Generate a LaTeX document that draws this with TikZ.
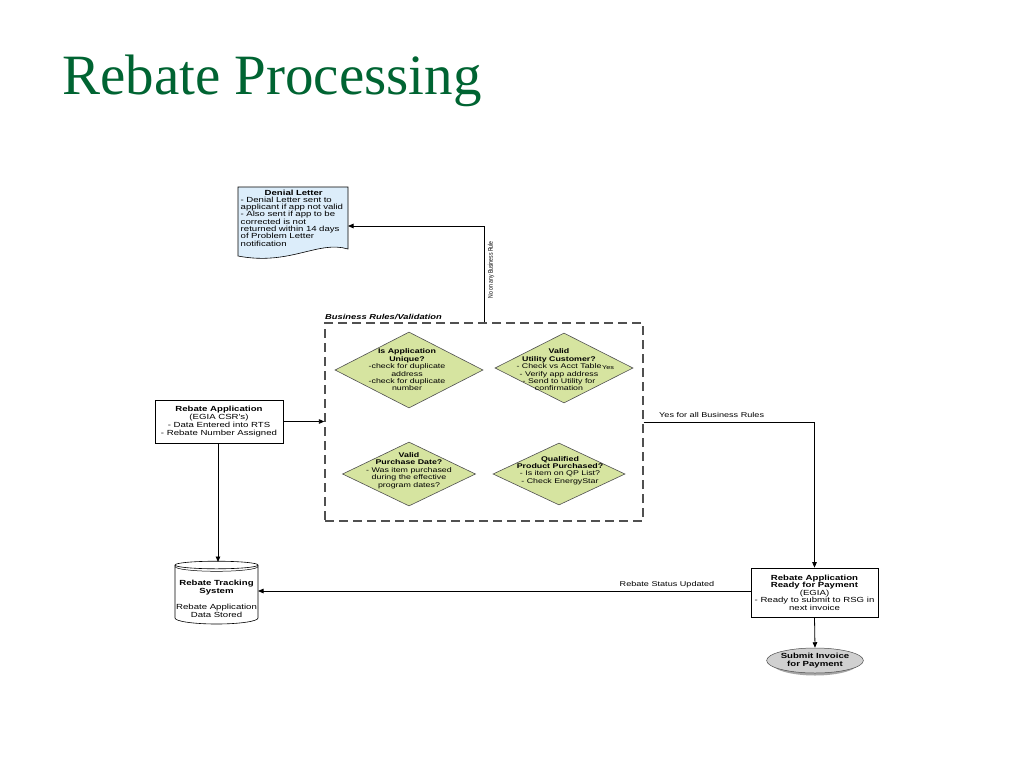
\documentclass[tikz,border=0pt]{standalone}
\usepackage{fontspec}
\setmainfont{Liberation Serif}
\newfontfamily\diagfont[FakeStretch=1.3]{Liberation Sans}
\newfontfamily\plainsans{Liberation Sans}
\usetikzlibrary{shapes.geometric,arrows.meta}
\definecolor{titlegreen}{RGB}{0,100,50}
\definecolor{docblue}{RGB}{220,237,250}
\definecolor{dgreen}{RGB}{214,228,160}
\definecolor{dline}{RGB}{80,80,80}
\definecolor{ovalgray}{RGB}{208,208,208}
\tikzset{
  txt/.style={font=\diagfont\fontsize{7.4}{7.8}\selectfont, align=center, inner sep=0pt},
  dtxt/.style={font=\diagfont\fontsize{6.8}{7.4}\selectfont, align=center, inner sep=0pt},
  box/.style={draw=black, line width=0.7pt, fill=white, minimum width=#1, inner sep=0pt},
  dia/.style={diamond, draw=dline, line width=0.6pt, fill=dgreen, inner sep=0pt},
  arr/.style={line width=0.8pt, -{Triangle[length=5.5pt,width=4.5pt]}},
  lbl/.style={font=\diagfont\fontsize{7}{7}\selectfont, inner sep=0pt},
}
\begin{document}
\begin{tikzpicture}[x=1pt,y=-1pt]
\useasboundingbox[fill=white] (0,0) rectangle (1024,768);

% title
\node[anchor=base west, inner sep=0pt, font=\fontsize{57}{57}\selectfont, text=titlegreen] (title) at (62,94) {Rebate Processing};

% Denial letter (document shape)
\draw[line width=0.6pt, fill=docblue] (238,187) -- (348,187) -- (348,249)
   .. controls (318,240) and (290,266) .. (238,256) -- cycle;
\node[txt, font=\diagfont\fontsize{7.4}{7.3}\selectfont, align=left, text width=106pt, anchor=north west] (denial) at (240.5,189.5)
  {\makebox[\linewidth]{\bfseries Denial Letter}\\
   - Denial Letter sent to\\applicant if app not valid\\- Also sent if app to be\\corrected is not\\returned within 14 days\\of Problem Letter\\notification};
\coordinate (denialin) at (348,226);

% dashed rules box
\node[draw=dline, line width=1.3pt, dash pattern=on 9pt off 5pt, minimum width=318pt, minimum height=198pt, inner sep=0pt] (rules) at (484,422) {};
\node[anchor=south west, inner sep=0pt, font=\diagfont\fontsize{7.2}{7.2}\selectfont\bfseries\itshape] (ruleslbl) at (325,320) {Business Rules/Validation};

% diamonds
\node[dia, minimum width=148pt, minimum height=76pt] (d1) at (409,370) {};
\node[dtxt] (t1) at (407,370) {\textbf{Is Application}\\\textbf{Unique?}\\-check for duplicate\\address\\-check for duplicate\\number};
\node[dia, minimum width=138pt, minimum height=70pt] (d2) at (564,368) {};
\node[dtxt] (t2) at (559,370) {\textbf{Valid}\\\textbf{Utility Customer?}\\- Check vs Acct Table\\- Verify app address\\- Send to Utility for\\confirmation};
\node[font=\diagfont\fontsize{5.6}{5.6}\selectfont, inner sep=0pt] (yes) at (608,368) {Yes};
\node[dia, minimum width=133pt, minimum height=64pt] (d3) at (409,474) {};
\node[dtxt] (t3) at (409,470.5) {\textbf{Valid}\\\textbf{Purchase Date?}\\- Was item purchased\\during the effective\\program dates?};
\node[dia, minimum width=132pt, minimum height=62pt] (d4) at (559,474) {};
\node[dtxt] (t4) at (560,470.5) {\textbf{Qualified}\\\textbf{Product Purchased?}\\- Is item on QP List?\\- Check EnergyStar};

% rebate application
\node[box=128pt, minimum height=43pt, txt] (app) at (219,421.5)
  {\textbf{Rebate Application}\\(EGIA CSR's)\\- Data Entered into RTS\\- Rebate Number Assigned};

% rebate tracking system (cylinder)
\node[minimum width=83pt, minimum height=62pt, inner sep=0pt] (rts) at (216.5,592) {};
\draw[line width=0.6pt, fill=white] (175,565) -- (175,618) arc[start angle=180, end angle=360, x radius=41.5pt, y radius=6pt] -- (258,565);
\draw[line width=0.6pt, fill=white] (216.5,565) ellipse[x radius=41.5pt, y radius=3.8pt];
\draw[line width=0.5pt] (175,566.5) arc[start angle=180, end angle=360, x radius=41.5pt, y radius=4.8pt];
\node[txt] (rtst) at (216.5,587.5) {\textbf{Rebate Tracking}\\\textbf{System}};
\node[txt] (rtsd) at (216.5,610.5) {Rebate Application\\Data Stored};

% ready for payment
\node[box=127pt, minimum height=49pt, txt, font=\diagfont\fontsize{7.4}{7.5}\selectfont] (ready) at (814.5,592.5)
  {\textbf{Rebate Application}\\\textbf{Ready for Payment}\\(EGIA)\\- Ready to submit to RSG in\\next invoice};

% submit invoice oval
\node[ellipse, fill=gray!70, minimum width=87pt, minimum height=25pt, inner sep=0pt] (shadow) at (815,663) {};
\node[ellipse, draw=gray!60!black, line width=0.5pt, fill=ovalgray, minimum width=87pt, minimum height=25pt, inner sep=0pt, txt] (submit) at (815,660.5)
  {\textbf{Submit Invoice}\\\textbf{for Payment}};

% connectors
\draw[arr] (rules.north) |- (denialin);
\node[font=\plainsans\fontsize{5.1}{5.1}\selectfont, rotate=90, inner sep=0pt] (nolbl) at (491,270) {\scalebox{1}[1.35]{No on any Business Rule}};
\draw[arr] (app.east) -- (app.east -| rules.west);
\draw[arr] (app.south -| 218,0) -- (218,562);
\draw[arr] (rules.east) -| (ready.north);
\node[lbl, anchor=south west] (yeslbl) at (659,418) {Yes for all Business Rules};
\draw[arr] (ready.west |- 0,591) -- (258,591);
\node[lbl, anchor=south] (statlbl) at (667,588) {Rebate Status Updated};
\draw[arr] (ready.south) -- (submit.north);
\end{tikzpicture}
\end{document}
